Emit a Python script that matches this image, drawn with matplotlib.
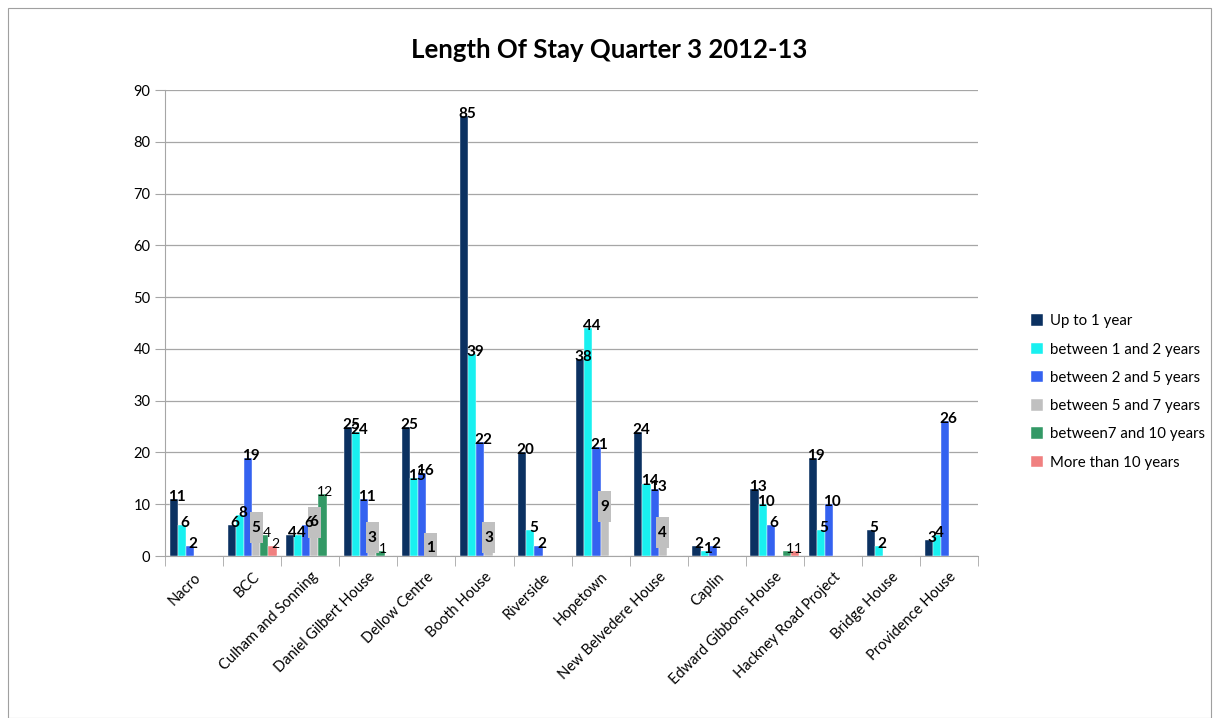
import numpy as np
import matplotlib.pyplot as plt
from matplotlib.patches import Rectangle

plt.rcParams['font.family'] = ['Lato', 'DejaVu Sans']

categories = ["Nacro", "BCC", "Culham and Sonning", "Daniel Gilbert House",
              "Dellow Centre", "Booth House", "Riverside", "Hopetown",
              "New Belvedere House", "Caplin", "Edward Gibbons House",
              "Hackney Road Project", "Bridge House", "Providence House"]

up_to_1 = [11, 6, 4, 25, 25, 85, 20, 38, 24, 2, 13, 19, 5, 3]
y1_2 = [6, 8, 4, 24, 15, 39, 5, 44, 14, 1, 10, 5, 2, 4]
y2_5 = [2, 19, 6, 11, 16, 22, 2, 21, 13, 2, 6, 10, 0, 26]
y5_7 = [0, 5, 6, 3, 1, 3, 0, 9, 4, 0, 0, 0, 0, 0]
y7_10 = [0, 4, 12, 1, 0, 0, 0, 0, 0, 0, 1, 0, 0, 0]
over_10 = [0, 2, 0, 0, 0, 0, 0, 0, 0, 0, 1, 0, 0, 0]

series = [up_to_1, y1_2, y2_5, y5_7, y7_10, over_10]
names = ["Up to 1 year", "between 1 and 2 years", "between 2 and 5 years",
         "between 5 and 7 years", "between7 and 10 years", "More than 10 years"]
colors = ["#0b3161", "#19f0f0", "#3462f0", "#c0c0c0", "#339966", "#f08080"]

fig = plt.figure(figsize=(12.19, 7.18), dpi=100)
fig.patches.append(Rectangle((8 / 1219, 0.0), 1203 / 1219, 1 - 8 / 718,
                             transform=fig.transFigure, fill=False,
                             edgecolor="#a0a0a0", linewidth=0.8))
ax = fig.add_axes([0.1354, 0.2256, 0.667, 0.649])

x = np.arange(len(categories))
w = 0.14
for i, (vals, name, c) in enumerate(zip(series, names, colors)):
    pos = x + (i - 2.5) * w
    ax.bar(pos, vals, w, color=c, label=name, edgecolor="white", linewidth=0.3, zorder=3)
    for px, v in zip(pos, vals):
        if v == 0:
            continue
        if i == 3:
            # grey series: label sits on a tall grey box
            ax.add_patch(Rectangle((px - 0.11, v + 0.5 - 3), 0.22, 6,
                                   facecolor="#c0c0c0", edgecolor="none", zorder=4))
            ax.text(px, v + 0.5, str(v), ha="center", va="center", fontsize=11,
                    fontweight="bold", zorder=5)
        elif i >= 4:
            ax.text(px + 0.05, v + 0.4, str(v), ha="center", va="center",
                    fontsize=10, zorder=5)
        else:
            ax.text(px + 0.05, v + 0.4, str(v), ha="center", va="center",
                    fontsize=11, fontweight="bold", zorder=5)

ax.set_xlim(-0.5, len(categories) - 0.5)
ax.set_ylim(0, 90)
ax.set_yticks(range(0, 91, 10))
ax.yaxis.grid(True, color="#a6a6a6", linewidth=0.9, zorder=0)
ax.set_xticks(x)
ax.set_xticklabels(categories, rotation=45, ha="right", rotation_mode="anchor",
                   fontsize=10.5)
ax.set_xticks(np.arange(-0.5, len(categories)), minor=True)
ax.tick_params(axis="x", which="major", length=0, pad=10)
ax.tick_params(axis="x", which="minor", length=7, color="#a6a6a6")
ax.tick_params(axis="y", length=7, color="#a6a6a6", labelsize=10.5)
for s in ["top", "right"]:
    ax.spines[s].set_visible(False)
ax.spines["left"].set_color("#a6a6a6")
ax.spines["bottom"].set_color("#a6a6a6")

fig.text(0.5, 0.930, "Length Of Stay Quarter 3 2012-13", ha="center", va="center",
         fontsize=18.5, fontweight="bold")
ax.legend(loc="center left", bbox_to_anchor=(1.065, 0.352), frameon=False,
          borderpad=0, borderaxespad=0, fontsize=10.8, handlelength=0.8,
          handleheight=0.8, handletextpad=0.5, labelspacing=0.95)

fig.savefig("out.png", dpi=100)
